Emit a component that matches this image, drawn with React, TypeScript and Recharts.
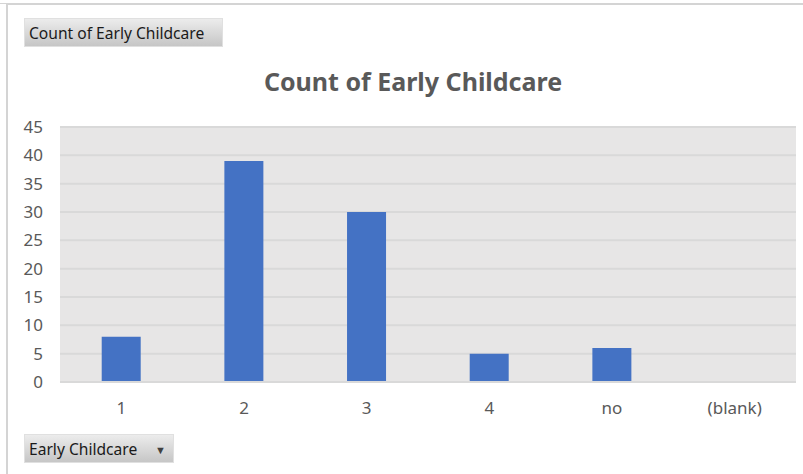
import { BarChart, Bar, XAxis, YAxis, CartesianGrid } from 'recharts'

const categories = ['1', '2', '3', '4', 'no', '(blank)']
const counts = [8, 39, 30, 5, 6, 0]
const yTicks = [0, 5, 10, 15, 20, 25, 30, 35, 40, 45]

const data = categories.map((name, i) => ({ name, count: counts[i] }))

const font = '"Noto Sans", "Open Sans", sans-serif'

const buttonStyle: React.CSSProperties = {
  position: 'absolute',
  left: 24,
  height: 29,
  boxSizing: 'border-box',
  background: 'linear-gradient(#ececec, #c6c6c6)',
  border: '1px solid #e0e0e0',
  fontFamily: font,
  fontSize: 15.6,
  color: '#1a1a1a',
  display: 'flex',
  alignItems: 'center',
  paddingLeft: 4,
  whiteSpace: 'nowrap',
}

export default function App() {
  return (
    <div style={{ position: 'absolute', left: 0, top: 0, width: 803, height: 474, background: '#fff', overflow: 'hidden' }}>
      {/* chart object frame */}
      <div style={{ position: 'absolute', left: 6, top: 3, width: 2, height: 471, background: '#d4d4d4' }} />
      <div style={{ position: 'absolute', left: 6, top: 3, width: 797, height: 2, background: '#d4d4d4' }} />
      <div style={{ position: 'absolute', left: 0, top: 3, width: 6, height: 1, background: '#d4d4d4' }} />
      <div style={{ ...buttonStyle, top: 18, width: 199 }}>Count of Early Childcare</div>
      <div
        style={{
          position: 'absolute',
          left: 0,
          width: 826,
          top: 64,
          textAlign: 'center',
          fontFamily: font,
          fontWeight: 700,
          fontSize: 25,
          color: '#595959',
        }}
      >
        Count of Early Childcare
      </div>
      <div style={{ position: 'absolute', left: 0, top: 0 }}>
        <BarChart
          width={803}
          height={474}
          data={data}
          margin={{ top: 127, right: 7, bottom: 52, left: 0 }}
          barCategoryGap="34%"
        >
          <CartesianGrid vertical={false} fill="#e7e6e6" stroke="#d9d9d9" strokeWidth={2} />
          <XAxis
            dataKey="name"
            height={40}
            tickSize={0}
            tickMargin={20}
            axisLine={{ stroke: '#d9d9d9', strokeWidth: 2 }}
            tick={{ fill: '#595959', fontSize: 17, fontFamily: font }}
          />
          <YAxis
            width={60}
            domain={[0, 45]}
            ticks={yTicks}
            tickSize={0}
            tickMargin={17}
            axisLine={false}
            tick={{ fill: '#595959', fontSize: 17, fontFamily: font }}
          />
          <Bar dataKey="count" fill="#4472c4" isAnimationActive={false} />
        </BarChart>
      </div>
      <div style={{ ...buttonStyle, top: 434, width: 150 }}>
        Early Childcare
        <span style={{ position: 'absolute', left: 130, top: 7, fontSize: 11, color: '#404040' }}>▼</span>
      </div>
    </div>
  )
}
